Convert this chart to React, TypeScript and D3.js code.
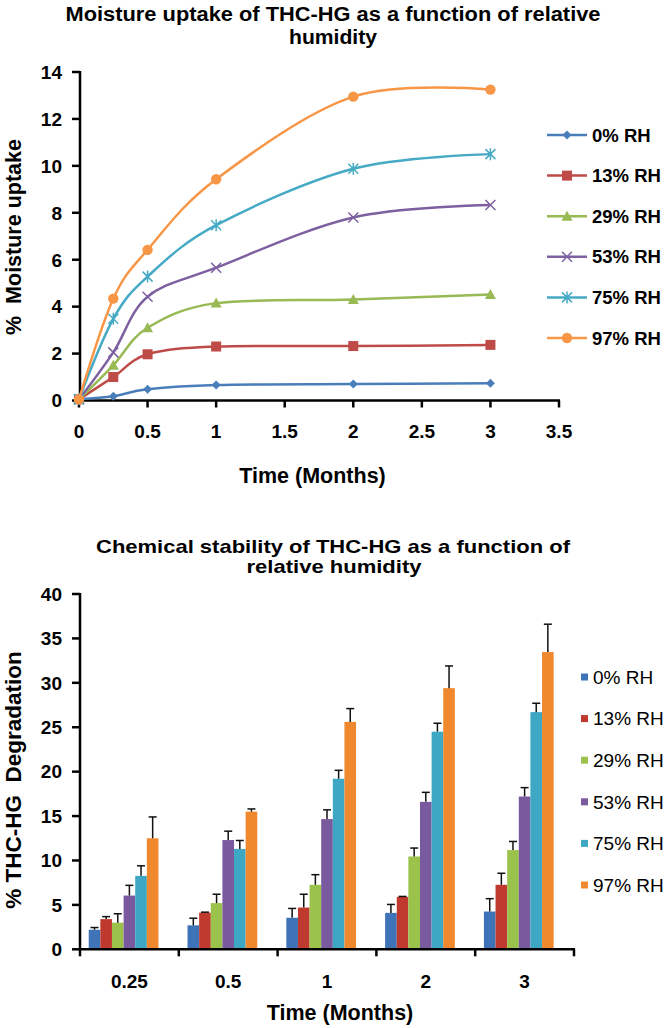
import React from "react";
import * as d3 from "d3";

// ---------- Top chart data ----------
const months = [0, 0.25, 0.5, 1, 2, 3];
const seriesNames = ["0% RH", "13% RH", "29% RH", "53% RH", "75% RH", "97% RH"];
const uptake0 = [0.05, 0.18, 0.48, 0.66, 0.7, 0.73];
const uptake13 = [0.05, 1.0, 1.97, 2.3, 2.32, 2.37];
const uptake29 = [0.05, 1.5, 3.1, 4.15, 4.3, 4.52];
const uptake53 = [0.05, 2.05, 4.42, 5.66, 7.8, 8.33];
const uptake75 = [0.05, 3.48, 5.28, 7.47, 9.88, 10.5];
const uptake97 = [0.05, 4.34, 6.42, 9.43, 12.95, 13.25];
const uptakeTicksY = [0, 2, 4, 6, 8, 10, 12, 14];
const uptakeTicksX = [0, 0.5, 1, 1.5, 2, 2.5, 3, 3.5];

// ---------- Bottom chart data ----------
const timeCats = ["0.25", "0.5", "1", "2", "3"];
const deg0 = [2.2, 2.7, 3.55, 4.1, 4.25];
const deg13 = [3.4, 4.13, 4.7, 5.9, 7.26];
const deg29 = [3.0, 5.2, 7.26, 10.45, 11.17];
const deg53 = [6.05, 12.3, 14.66, 16.6, 17.2];
const deg75 = [8.27, 11.3, 19.2, 24.5, 26.7];
const deg97 = [12.5, 15.5, 25.6, 29.4, 33.46];
const err0 = [0.25, 0.8, 1.05, 0.95, 1.45];
const err13 = [0.28, 0.05, 1.5, 0.05, 1.3];
const err29 = [1.0, 1.0, 1.14, 0.95, 0.97];
const err53 = [1.15, 1.0, 1.04, 1.07, 1.0];
const err75 = [1.13, 0.95, 0.95, 0.95, 1.0];
const err97 = [2.4, 0.3, 1.5, 2.5, 3.14];
const degTicksY = [0, 5, 10, 15, 20, 25, 30, 35, 40];

const lineColors = ["#4a7ebb", "#be4b48", "#98b954", "#7d60a0", "#46aac5", "#f79646"];
const barColors = ["#3f73b8", "#c0392f", "#9bc24a", "#7a5a9e", "#3ea7c3", "#f0892e"];
const markers = ["diamond", "square", "triangle", "x", "star", "circle"];

const FONT = "'Liberation Sans', Arial, sans-serif";

function Marker({ type, x, y, color }: { type: string; x: number; y: number; color: string }) {
  switch (type) {
    case "diamond":
      return <path d={`M${x},${y - 4.5}L${x + 4.5},${y}L${x},${y + 4.5}L${x - 4.5},${y}Z`} fill={color} />;
    case "square":
      return <rect x={x - 5} y={y - 5} width={10} height={10} fill={color} />;
    case "triangle":
      return <path d={`M${x},${y - 5.5}L${x + 5.5},${y + 4.5}L${x - 5.5},${y + 4.5}Z`} fill={color} />;
    case "x":
      return (
        <path d={`M${x - 5},${y - 5}L${x + 5},${y + 5}M${x - 5},${y + 5}L${x + 5},${y - 5}`} stroke={color} strokeWidth={1.5} fill="none" />
      );
    case "star":
      return (
        <path
          d={`M${x - 5},${y - 5}L${x + 5},${y + 5}M${x - 5},${y + 5}L${x + 5},${y - 5}M${x},${y - 6}L${x},${y + 6}`}
          stroke={color}
          strokeWidth={1.5}
          fill="none"
        />
      );
    default:
      return <circle cx={x} cy={y} r={5.2} fill={color} />;
  }
}

function TopChart() {
  const data = [uptake0, uptake13, uptake29, uptake53, uptake75, uptake97];
  const x = d3.scaleLinear().domain([0, 3.5]).range([79, 559]);
  const y = d3.scaleLinear().domain([0, 14]).range([400.5, 72]);
  const line = d3
    .line<number>()
    .x((_, i) => x(months[i]))
    .y((d) => y(d))
    .curve(d3.curveCardinal.tension(0));
  const legendY = d3.scalePoint<string>().domain(seriesNames).range([135, 338]);
  return (
    <g fontFamily={FONT}>
      <text x={333} y={20.5} textAnchor="middle" fontSize={20} fontWeight="bold" textLength={535} lengthAdjust="spacingAndGlyphs">
        Moisture uptake of THC-HG as a function of relative
      </text>
      <text x={333} y={44} textAnchor="middle" fontSize={20} fontWeight="bold" textLength={88} lengthAdjust="spacingAndGlyphs">
        humidity
      </text>
      {/* axes */}
      <line x1={80} x2={80} y1={y(14) - 1} y2={y(0)} stroke="#000" strokeWidth={2.5} />
      <line x1={79} x2={x(3.5) + 1} y1={y(0)} y2={y(0)} stroke="#000" strokeWidth={2.5} />
      {uptakeTicksY.map((t) => (
        <g key={t}>
          <line x1={72} x2={80} y1={y(t)} y2={y(t)} stroke="#000" strokeWidth={2.5} />
          <text x={62} y={y(t)} dy="0.36em" textAnchor="end" fontSize={19} fontWeight="bold">
            {t}
          </text>
        </g>
      ))}
      {uptakeTicksX.map((t) => (
        <g key={t}>
          <line x1={x(t)} x2={x(t)} y1={y(0)} y2={y(0) + 7} stroke="#000" strokeWidth={2.5} />
          <text x={x(t)} y={438} textAnchor="middle" fontSize={19} fontWeight="bold">
            {t}
          </text>
        </g>
      ))}
      <text x={312.5} y={483} textAnchor="middle" fontSize={21.5} fontWeight="bold">
        Time (Months)
      </text>
      <text transform="translate(21,237) rotate(-90)" textAnchor="middle" fontSize={21.5} fontWeight="bold" style={{ whiteSpace: "pre" }}>
        {"%  Moisture uptake"}
      </text>
      {/* series */}
      {data.map((s, k) => (
        <g key={k}>
          <path d={line(s) || ""} fill="none" stroke={lineColors[k]} strokeWidth={2.5} />
          {s.map((v, i) => (
            <Marker key={i} type={markers[k]} x={x(months[i])} y={y(v)} color={lineColors[k]} />
          ))}
        </g>
      ))}
      {/* legend */}
      {seriesNames.map((n, k) => {
        const ly = legendY(n) as number;
        return (
          <g key={n}>
            <line x1={547} x2={587} y1={ly} y2={ly} stroke={lineColors[k]} strokeWidth={2.5} />
            <Marker type={markers[k]} x={567} y={ly} color={lineColors[k]} />
            <text x={592} y={ly} dy="0.36em" fontSize={18.5} fontWeight="bold">
              {n}
            </text>
          </g>
        );
      })}
    </g>
  );
}

function BottomChart() {
  const vals = [deg0, deg13, deg29, deg53, deg75, deg97];
  const errs = [err0, err13, err29, err53, err75, err97];
  const x = d3.scaleBand<string>().domain(timeCats).range([80, 574]).padding(0);
  const slots = d3.range(7).map(String);
  const xi = d3.scaleBand<string>().domain(slots).range([0, x.bandwidth()]).paddingInner(0).paddingOuter(0.75);
  const y = d3.scaleLinear().domain([0, 40]).range([949.3, 594]);
  const legendY = d3.scalePoint<string>().domain(seriesNames).range([677, 885]);
  const bounds = [...timeCats.map((c) => x(c) as number), 574];
  return (
    <g fontFamily={FONT}>
      <text x={333} y={553} textAnchor="middle" fontSize={19} fontWeight="bold" textLength={474} lengthAdjust="spacingAndGlyphs">
        Chemical stability of THC-HG as a function of
      </text>
      <text x={334} y={573} textAnchor="middle" fontSize={19} fontWeight="bold" textLength={175} lengthAdjust="spacingAndGlyphs">
        relative humidity
      </text>
      {/* bars */}
      {vals.map((s, k) =>
        s.map((v, i) => {
          const bx = (x(timeCats[i]) as number) + (xi(String(k)) as number);
          const bw = xi.bandwidth();
          const cx = bx + bw / 2;
          const top = y(v + errs[k][i]);
          return (
            <g key={`${k}-${i}`}>
              <rect x={bx} y={y(v)} width={bw} height={y(0) - y(v)} fill={barColors[k]} />
              <line x1={cx} x2={cx} y1={y(v)} y2={top} stroke="#111" strokeWidth={1.5} />
              <line x1={cx - 4} x2={cx + 4} y1={top} y2={top} stroke="#111" strokeWidth={1.5} />
            </g>
          );
        })
      )}
      {/* axes */}
      <line x1={80} x2={80} y1={y(40) - 1} y2={y(0)} stroke="#000" strokeWidth={2.5} />
      <line x1={79} x2={575} y1={y(0)} y2={y(0)} stroke="#000" strokeWidth={2.5} />
      {degTicksY.map((t) => (
        <g key={t}>
          <line x1={72} x2={80} y1={y(t)} y2={y(t)} stroke="#000" strokeWidth={2.5} />
          <text x={62} y={y(t)} dy="0.36em" textAnchor="end" fontSize={19} fontWeight="bold">
            {t}
          </text>
        </g>
      ))}
      {bounds.map((b, i) => (
        <line key={i} x1={b} x2={b} y1={y(0)} y2={y(0) + 7} stroke="#000" strokeWidth={2.5} />
      ))}
      {timeCats.map((c) => (
        <text key={c} x={(x(c) as number) + x.bandwidth() / 2} y={988} textAnchor="middle" fontSize={19} fontWeight="bold">
          {c}
        </text>
      ))}
      <text x={340} y={1020} textAnchor="middle" fontSize={21.5} fontWeight="bold">
        Time (Months)
      </text>
      <text transform="translate(21,780) rotate(-90)" textAnchor="middle" fontSize={22.5} fontWeight="bold" style={{ whiteSpace: "pre" }}>
        {"% THC-HG  Degradation"}
      </text>
      {/* legend */}
      {seriesNames.map((n, k) => {
        const ly = legendY(n) as number;
        return (
          <g key={n}>
            <rect x={581} y={ly - 3.5} width={7} height={7} fill={barColors[k]} />
            <text x={593} y={ly} dy="0.36em" fontSize={19}>
              {n}
            </text>
          </g>
        );
      })}
    </g>
  );
}

export default function App() {
  return (
    <div>
      <style>{`body{margin:0;background:#fff}`}</style>
      <svg width={667} height={1028} viewBox="0 0 667 1028" style={{ display: "block" }}>
        <rect width={667} height={1028} fill="#fff" />
        <TopChart />
        <BottomChart />
      </svg>
    </div>
  );
}
